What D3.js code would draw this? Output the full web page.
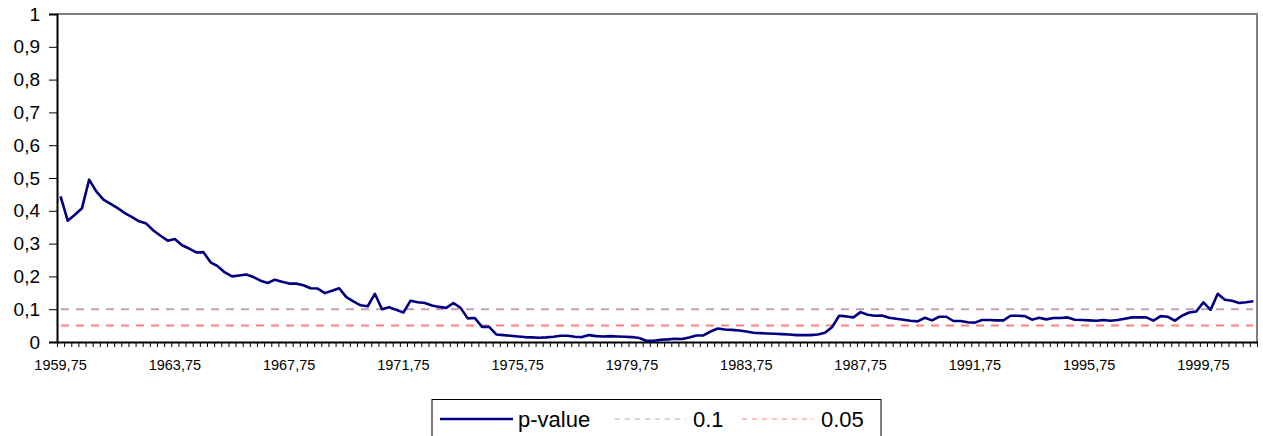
<!DOCTYPE html>
<html>
<head>
<meta charset="utf-8">
<script src="https://cdn.jsdelivr.net/npm/d3@7"></script>
<style>
  html, body { margin: 0; padding: 0; background: #fff; }
  svg { display: block; font-family: "Liberation Sans", Arial, sans-serif; }
</style>
</head>
<body>
<svg id="chart" width="1263" height="436"></svg>
<script>
// ---- data ----
const startYear = 1959.75;          // first quarter on the axis
const pValues = [
  0.444, 0.370, 0.388, 0.408, 0.495, 0.459, 0.434, 0.421, 0.408, 0.393,
  0.381, 0.368, 0.361, 0.340, 0.324, 0.309, 0.314, 0.295, 0.285, 0.273,
  0.274, 0.243, 0.231, 0.212, 0.200, 0.203, 0.206, 0.198, 0.187, 0.180,
  0.190, 0.184, 0.178, 0.178, 0.173, 0.164, 0.163, 0.149, 0.156, 0.164,
  0.137, 0.124, 0.112, 0.109, 0.147, 0.100, 0.106, 0.098, 0.090, 0.126,
  0.121, 0.119, 0.111, 0.107, 0.104, 0.119, 0.104, 0.072, 0.073, 0.046,
  0.046, 0.023, 0.021, 0.019, 0.017, 0.015, 0.014, 0.013, 0.014, 0.016,
  0.019, 0.019, 0.016, 0.015, 0.021, 0.018, 0.017, 0.018, 0.017, 0.016,
  0.015, 0.012, 0.004, 0.004, 0.007, 0.008, 0.010, 0.009, 0.014, 0.020,
  0.020, 0.032, 0.041, 0.038, 0.037, 0.035, 0.032, 0.028, 0.027, 0.026,
  0.025, 0.024, 0.023, 0.021, 0.021, 0.021, 0.023, 0.028, 0.045, 0.080,
  0.078, 0.075, 0.091, 0.083, 0.080, 0.081, 0.074, 0.071, 0.068, 0.065,
  0.063, 0.074, 0.066, 0.077, 0.077, 0.064, 0.064, 0.060, 0.059, 0.067,
  0.067, 0.066, 0.066, 0.080, 0.080, 0.079, 0.068, 0.074, 0.069, 0.073,
  0.073, 0.075, 0.068, 0.067, 0.066, 0.065, 0.067, 0.065, 0.067, 0.071,
  0.075, 0.075, 0.075, 0.065, 0.079, 0.077, 0.065, 0.080, 0.090, 0.093,
  0.121, 0.098, 0.147, 0.129, 0.126, 0.119, 0.121, 0.124
];
const categories = pValues.map((_, i) => String(startYear + i * 0.25));
const tickLabels = ["1959,75","1963,75","1967,75","1971,75","1975,75","1979,75",
                    "1983,75","1987,75","1991,75","1995,75","1999,75"];
const tickCategories = ["1959.75","1963.75","1967.75","1971.75","1975.75","1979.75",
                        "1983.75","1987.75","1991.75","1995.75","1999.75"];
const yTicks = [0, 0.1, 0.2, 0.3, 0.4, 0.5, 0.6, 0.7, 0.8, 0.9, 1];
const refLevels = [0.1, 0.05];
const seriesNames = ["p-value", "0.1", "0.05"];

// ---- layout ----
const svg = d3.select("#chart");
const pL = 57, pR = 1257, pT = 14, pB = 342;
const x = d3.scaleBand().domain(categories).range([pL, pR]).padding(0);
const bw = x.bandwidth();
const y = d3.scaleLinear().domain([0, 1]).range([pB, pT]);
const colors = { p: "#000080", r1: "#C99BBB", r2: "#FF7F7F" };

// plot frame (top and right in grey)
svg.append("path")
  .attr("d", `M${pL},${pT}H${pR}V${pB}`)
  .attr("fill", "none").attr("stroke", "#808080").attr("stroke-width", 2);

// reference lines
const refColors = [colors.r1, colors.r2];
refLevels.forEach((v, k) => {
  svg.append("line")
    .attr("x1", pL + 4).attr("x2", pR - 4)
    .attr("y1", y(v)).attr("y2", y(v))
    .attr("stroke", refColors[k]).attr("stroke-width", 2)
    .attr("stroke-dasharray", "8,7");
});

// y axis
const yAxis = d3.axisLeft(y).tickValues(yTicks)
  .tickFormat(d => String(+d.toFixed(1)).replace(".", ","))
  .tickSize(8).tickPadding(9);
const gy = svg.append("g").attr("transform", `translate(${pL},0)`).call(yAxis);
gy.select(".domain").attr("stroke", "#000").attr("stroke-width", 2);
gy.selectAll(".tick line").attr("stroke", "#000").attr("stroke-width", 1);
gy.selectAll(".tick text").attr("font-size", 19).attr("fill", "#000")
  .attr("font-family", "'Liberation Sans', Arial, sans-serif");

// x axis: tick marks between categories
const xb = d3.scaleLinear().domain([0, categories.length]).range([pL, pR]);
const xAxis = d3.axisBottom(xb).tickValues(d3.range(0, categories.length + 1))
  .tickFormat("").tickSize(5).tickSizeOuter(0);
const gx = svg.append("g").attr("transform", `translate(0,${pB})`).call(xAxis);
gx.select(".domain").attr("stroke", "#000").attr("stroke-width", 2);
gx.selectAll(".tick line").attr("stroke", "#000").attr("stroke-width", 1);

// x labels
svg.append("g").selectAll("text").data(tickCategories).join("text")
  .attr("x", d => x(d) + bw / 2)
  .attr("y", 370)
  .attr("text-anchor", "middle")
  .attr("font-size", 14.5)
  .attr("fill", "#000")
  .text((d, i) => tickLabels[i]);

// p-value line
const line = d3.line()
  .x((d, i) => x(categories[i]) + bw / 2)
  .y(d => y(d));
svg.append("path").datum(pValues)
  .attr("d", line)
  .attr("fill", "none")
  .attr("stroke", colors.p)
  .attr("stroke-width", 2.6)
  .attr("stroke-linejoin", "round");

// legend
const lg = svg.append("g");
lg.append("rect").attr("x", 432).attr("y", 399.5).attr("width", 449).attr("height", 50)
  .attr("fill", "#fff").attr("stroke", "#000").attr("stroke-width", 1);
const legendItems = [
  { name: seriesNames[0], color: colors.p, dash: null, w: 2.5, x0: 440, x1: 513, tx: 518 },
  { name: seriesNames[1], color: colors.r1, dash: "5,5", w: 1, x0: 615, x1: 686, tx: 693 },
  { name: seriesNames[2], color: colors.r2, dash: "5,5", w: 1, x0: 742, x1: 813, tx: 821 }
];
legendItems.forEach(it => {
  lg.append("line").attr("x1", it.x0).attr("x2", it.x1).attr("y1", 419).attr("y2", 419)
    .attr("stroke", it.color).attr("stroke-width", it.w)
    .attr("stroke-dasharray", it.dash);
  lg.append("text").attr("x", it.tx).attr("y", 427).attr("font-size", 22)
    .attr("fill", "#000").text(it.name);
});
</script>
</body>
</html>
